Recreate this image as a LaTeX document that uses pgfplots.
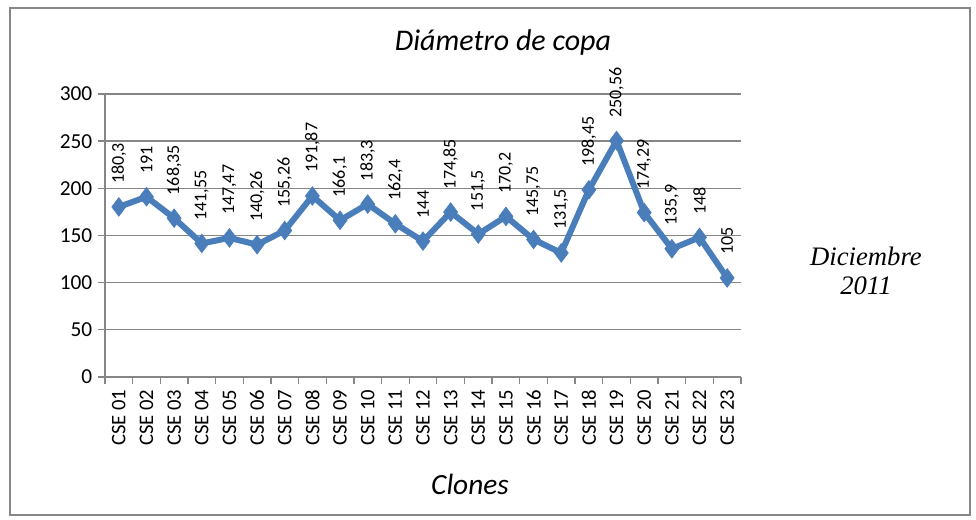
\documentclass[border=0pt]{standalone}
\usepackage{pgfplots}
\pgfplotsset{compat=1.18}
\usepackage{fontspec}
\setmainfont{Carlito}
\newfontfamily\timesfont{Liberation Serif}
\definecolor{excelblue}{RGB}{74,126,187}
\definecolor{gridgray}{RGB}{134,134,134}
\begin{document}
\begin{tikzpicture}
\draw[gridgray, line width=0.8pt] (7.5pt,3.75pt) rectangle (727.5pt,384pt);
\begin{axis}[
  at={(78.75pt,107.25pt)}, anchor=south west,
  width=477pt, height=212.25pt, scale only axis,
  xmin=-0.5, xmax=22.5, ymin=0, ymax=300,
  xtick={0,...,22},
  xticklabels={CSE 01,CSE 02,CSE 03,CSE 04,CSE 05,CSE 06,CSE 07,CSE 08,CSE 09,CSE 10,CSE 11,CSE 12,CSE 13,CSE 14,CSE 15,CSE 16,CSE 17,CSE 18,CSE 19,CSE 20,CSE 21,CSE 22,CSE 23},
  minor xtick={-0.5,0.5,...,22.5},
  ytick={0,50,...,300},
  minor ytick={0,50,...,300},
  major tick length=0pt, minor tick length=5pt,
  tick align=outside,
  axis x line*=bottom, axis y line*=left,
  axis line style={gridgray, line width=1pt},
  every tick/.style={gridgray, line width=1pt},
  ymajorgrids, major grid style={gridgray, line width=1pt},
  xticklabel style={rotate=90, anchor=east, font=\fontsize{15.5}{15.5}\selectfont, xshift=-6pt},
  yticklabel style={font=\fontsize{16}{16}\selectfont, xshift=-6pt},
  /pgf/number format/.cd, use comma, assume math mode=true, 1000 sep={},
  /pgfplots/.cd,
  clip=false,
  nodes near coords,
  every node near coord/.append style={rotate=90, anchor=west, inner xsep=17pt, font=\fontsize{13.5}{13.5}\selectfont, black},
]
\addplot[excelblue, line width=4.5pt, mark=diamond*, mark size=7pt, mark options={solid, fill=excelblue, draw=excelblue, line width=0.5pt}]
 coordinates {
 (0,180.3) (1,191) (2,168.35) (3,141.55) (4,147.47) (5,140.26) (6,155.26) (7,191.87)
 (8,166.1) (9,183.3) (10,162.4) (11,144) (12,174.85) (13,151.5) (14,170.2) (15,145.75)
 (16,131.5) (17,198.45) (18,250.56) (19,174.29) (20,135.9) (21,148) (22,105)
 };
\end{axis}
\node[font=\fontsize{22.5}{22.5}\selectfont\itshape] at (377.25pt,357.75pt) {Diámetro de copa};
\node[font=\fontsize{22}{22}\selectfont\itshape] at (352.5pt,27pt) {Clones};
\node[font=\fontsize{20}{22}\selectfont\timesfont\itshape, align=center] at (649.5pt,186.75pt) {Diciembre\\2011};
\pgfresetboundingbox
\path (0,0) rectangle (732pt,390pt);
\end{tikzpicture}
\end{document}
